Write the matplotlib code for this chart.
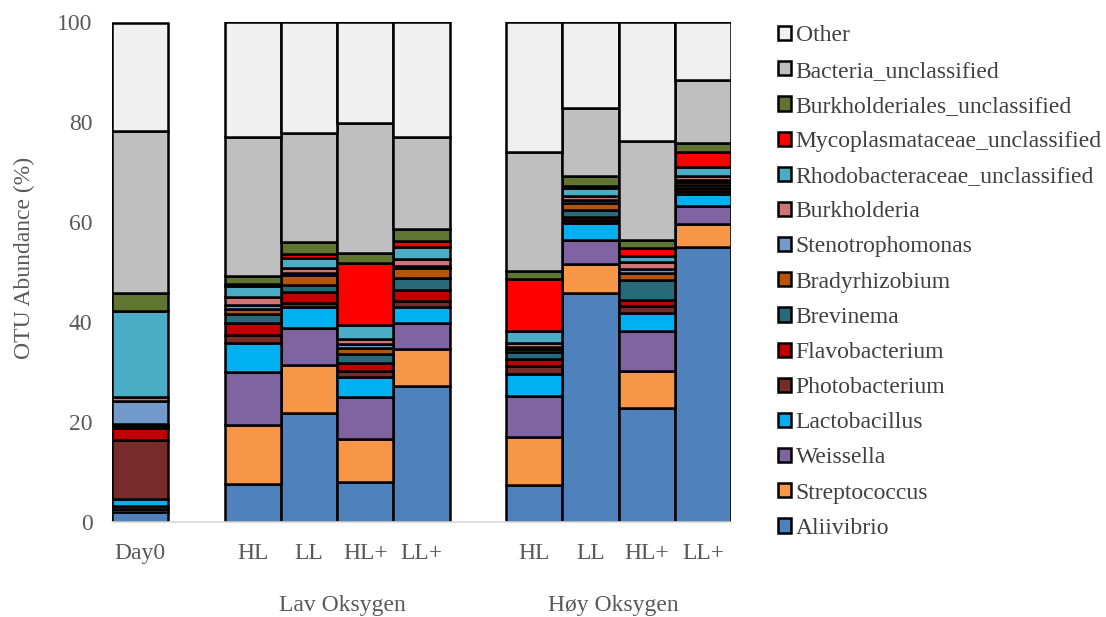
import numpy as np
import matplotlib.pyplot as plt

plt.rcParams['font.family'] = ['Liberation Serif', 'DejaVu Serif']

# samples (blank entries are spacer categories)
samples = ["Day0", "", "HL", "LL", "HL+", "LL+", "", "HL", "LL", "HL+", "LL+"]
groups = ["Lav Oksygen", "Høy Oksygen"]

taxa = ["Aliivibrio", "Streptococcus", "Weissella", "Lactobacillus",
        "Photobacterium", "Flavobacterium", "Brevinema", "Bradyrhizobium",
        "Stenotrophomonas", "Burkholderia", "Rhodobacteraceae_unclassified",
        "Mycoplasmataceae_unclassified", "Burkholderiales_unclassified",
        "Bacteria_unclassified", "Other"]

colors = ["#4F81BD", "#F79646", "#8064A2", "#00B0F0", "#772C2A", "#C00000",
          "#28697A", "#B45508", "#729ACA", "#D07573", "#4BACC6", "#FF0000",
          "#617532", "#BFBFBF", "#F0F0F0"]

# abundance (%) per taxon, one value per sample (spacers = 0)
aliivibrio     = [2.0, 0, 7.5, 21.7, 8.0, 27.2, 0, 7.4, 45.8, 22.7, 55.1]
streptococcus  = [0.5, 0, 11.8, 9.7, 8.6, 7.4, 0, 9.5, 5.8, 7.5, 4.6]
weissella      = [0.6, 0, 10.6, 7.3, 8.4, 5.1, 0, 8.3, 4.8, 8.0, 3.5]
lactobacillus  = [1.4, 0, 5.9, 4.3, 4.0, 3.3, 0, 4.4, 3.5, 3.6, 2.4]
photobacterium = [11.8, 0, 1.5, 0.9, 1.2, 1.3, 0, 1.6, 0.6, 1.4, 0.7]
flavobacterium = [2.5, 0, 2.5, 2.2, 1.5, 2.1, 0, 1.3, 0.6, 1.2, 0.6]
brevinema      = [0.4, 0, 1.9, 1.3, 1.8, 2.4, 0, 1.4, 1.3, 4.1, 0.6]
bradyrhizobium = [0.4, 0, 1.0, 2.0, 1.2, 2.0, 0, 0.6, 1.4, 1.3, 0.6]
stenotroph     = [4.6, 0, 0.8, 0.5, 0.9, 0.5, 0, 0.5, 0.6, 0.8, 0.4]
burkholderia   = [0.8, 0, 1.5, 0.9, 1.0, 1.3, 0, 0.8, 0.8, 1.4, 0.7]
rhodobacter    = [17.2, 0, 2.2, 2.0, 2.7, 2.4, 0, 2.4, 1.7, 1.3, 1.9]
mycoplasma     = [0.1, 0, 0.5, 0.8, 12.5, 1.3, 0, 10.4, 0.4, 1.5, 2.9]
burkholderiales = [3.5, 0, 1.6, 2.5, 2.1, 2.4, 0, 1.6, 2.0, 1.7, 1.9]
bacteria_uncl  = [32.5, 0, 27.8, 21.8, 26.0, 18.4, 0, 23.9, 13.6, 19.7, 12.5]
other          = [21.5, 0, 22.9, 22.1, 20.1, 22.9, 0, 25.9, 17.1, 23.8, 11.6]

values = [aliivibrio, streptococcus, weissella, lactobacillus, photobacterium,
          flavobacterium, brevinema, bradyrhizobium, stenotroph, burkholderia,
          rhodobacter, mycoplasma, burkholderiales, bacteria_uncl, other]

fs = 17
txt = "#595959"

fig = plt.figure(figsize=(11.06, 6.17), dpi=100)
ax = fig.add_axes([0.1013, 0.154, 0.5597, 0.8103])

x = np.arange(len(samples))
mask = np.array([s != "" for s in samples])
bottom = np.zeros(len(samples))
handles = []
for name, vals, col in zip(taxa, values, colors):
    vals = np.array(vals, dtype=float)
    b = ax.bar(x[mask], vals[mask], width=1.0, bottom=bottom[mask], color=col,
               edgecolor="black", linewidth=1.8, label=name)
    handles.append(b)
    bottom += vals

ax.set_xlim(-0.5, len(samples) - 0.5)
ax.set_ylim(0, 100)
ax.set_yticks(np.arange(0, 101, 20))
ax.set_xticks(x)
ax.set_xticklabels(samples)
ax.tick_params(axis="both", length=0, labelsize=fs, colors=txt)
ax.tick_params(axis="x", pad=15)
ax.tick_params(axis="y", pad=14)
for s in ["top", "right", "left"]:
    ax.spines[s].set_visible(False)
ax.spines["bottom"].set_color("#D9D9D9")
ax.spines["bottom"].set_linewidth(1.2)
ax.set_ylabel("OTU Abundance (%)", fontsize=fs, color=txt)
ax.yaxis.set_label_coords(-0.124, 0.528)

# group labels under the sample labels
ax.text(3.59, -16.8, groups[0], ha="center", va="center", fontsize=fs, color=txt)
ax.text(8.4, -16.8, groups[1], ha="center", va="center", fontsize=fs, color=txt)

leg = fig.legend(handles[::-1], taxa[::-1], loc="upper left",
                 bbox_to_anchor=(0.695, 0.974), frameon=False, fontsize=fs,
                 handlelength=0.55, handleheight=0.55, handletextpad=0.2,
                 labelspacing=0.60, borderaxespad=0)
for t in leg.get_texts():
    t.set_color("#404040")

plt.savefig("out.png")
